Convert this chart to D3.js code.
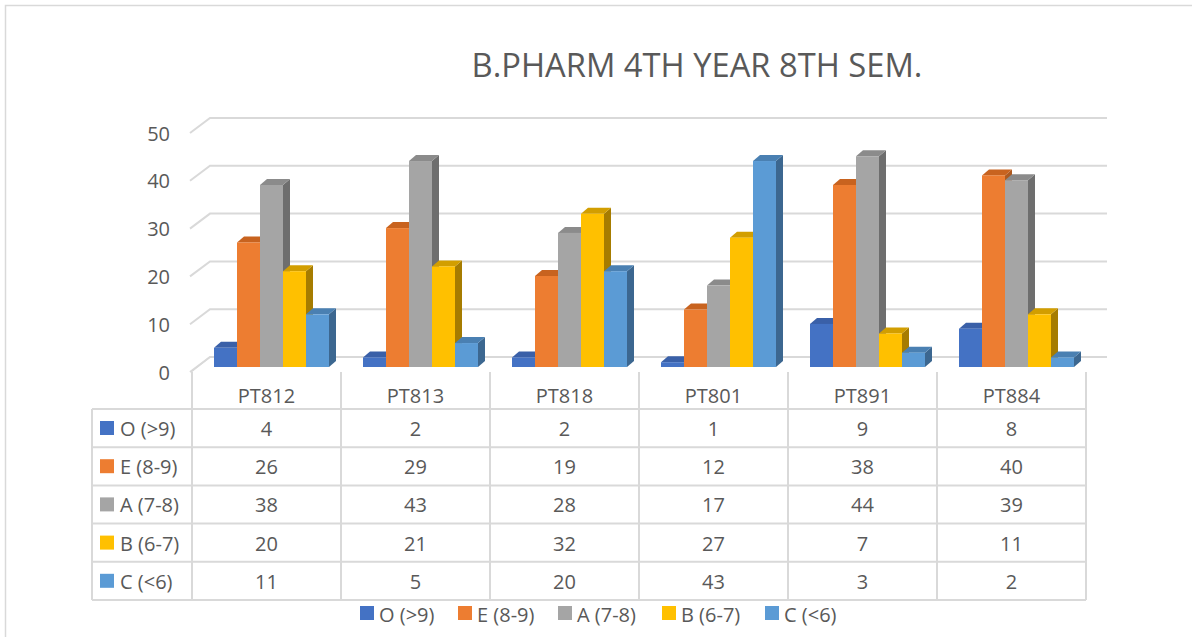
<!DOCTYPE html>
<html>
<head>
<meta charset="utf-8">
<script src="https://cdn.jsdelivr.net/npm/d3@7/dist/d3.min.js"></script>
<style>
  html, body { margin: 0; padding: 0; background: #fff; }
  svg { display: block; font-family: "Open Sans", "Noto Sans", sans-serif; }
  text { fill: #595959; }
</style>
</head>
<body>
<svg id="chart" width="1192" height="637"></svg>
<script>
// Grade distribution per subject code
const categories = ["PT812", "PT813", "PT818", "PT801", "PT891", "PT884"];
const seriesNames = ["O (>9)", "E (8-9)", "A (7-8)", "B (6-7)", "C (<6)"];
const valuesO = [4, 2, 2, 1, 9, 8];
const valuesE = [26, 29, 19, 12, 38, 40];
const valuesA = [38, 43, 28, 17, 44, 39];
const valuesB = [20, 21, 32, 27, 7, 11];
const valuesC = [11, 5, 20, 43, 3, 2];
const yTicks = [0, 10, 20, 30, 40, 50];
const titleText = "B.PHARM 4TH YEAR 8TH SEM.";

const seriesValues = [valuesO, valuesE, valuesA, valuesB, valuesC];
const frontColors = ["#4472C4", "#ED7D31", "#A5A5A5", "#FFC000", "#5B9BD5"];
const topColors   = ["#3A60A8", "#C8631F", "#8B8B8B", "#D29E00", "#4A80B2"];
const sideColors  = ["#2F528F", "#AE5A20", "#6E6E6E", "#A67C00", "#3C6790"];

const svg = d3.select("#chart");
const grid = "#d9d9d9";

// outer frame (top and left edges)
svg.append("path")
  .attr("d", "M5.5,637 L5.5,5.5 L1192,5.5")
  .attr("fill", "none").attr("stroke", grid).attr("stroke-width", 1.5);

// title, sized to its box
const title = svg.append("text")
  .attr("x", 697).attr("y", 77)
  .attr("text-anchor", "middle")
  .style("font-size", "30px")
  .text(titleText);
const tw = title.node().getComputedTextLength();
title.style("font-size", (30 * 451 / tw).toFixed(2) + "px");

// scales: back wall, front face of columns
const yBack = d3.scaleLinear().domain([0, 50]).range([357, 118]);
const yFront = d3.scaleLinear().domain([0, 50]).range([367, 127.5]);
const x = d3.scaleBand().domain(categories).range([192, 1086]).paddingInner(0).paddingOuter(0);
const xs = d3.scaleBand().domain(seriesNames).range([22, 137]);
const depthX = 7, depthY = -6;

// back-wall gridlines with the left-wall diagonal
const gl = svg.append("g").attr("fill", "none").attr("stroke", grid).attr("stroke-width", 2);
yTicks.forEach(t => {
  const yb = yBack(t);
  gl.append("path").attr("d", `M190,${yb + 15} L210,${yb} L1107,${yb}`);
});

// axis labels
const axis = svg.append("g");
yTicks.forEach(t => {
  axis.append("text")
    .attr("x", 170).attr("y", yBack(t) + 15 + 7.5)
    .attr("text-anchor", "end")
    .style("font-size", "20px")
    .text(t);
});

// 3D columns, drawn left to right so neighbours overlap correctly
const bars = svg.append("g");
categories.forEach((cat, ci) => {
  seriesNames.forEach((s, si) => {
    const v = seriesValues[si][ci];
    const x0 = x(cat) + xs(s);
    const w = xs.bandwidth();
    const yt = yFront(v), yb = yFront(0);
    const g = bars.append("g");
    // side
    g.append("path")
      .attr("d", `M${x0 + w},${yt} L${x0 + w + depthX},${yt + depthY} L${x0 + w + depthX},${yb + depthY} L${x0 + w},${yb} Z`)
      .attr("fill", sideColors[si]);
    // top
    g.append("path")
      .attr("d", `M${x0},${yt} L${x0 + depthX},${yt + depthY} L${x0 + w + depthX},${yt + depthY} L${x0 + w},${yt} Z`)
      .attr("fill", topColors[si]);
    // front
    g.append("rect")
      .attr("x", x0).attr("y", yt)
      .attr("width", w).attr("height", yb - yt)
      .attr("fill", frontColors[si]);
  });
});

// data table
const table = svg.append("g");
const rowTop = 409, rowH = 38.2;
const tableLeft = 92, tableRight = 1086;
const lines = table.append("g").attr("stroke", grid).attr("stroke-width", 2).attr("fill", "none");
// floor front edge into the first column line
lines.append("path").attr("d", `M210,357 L191,372`).attr("stroke-width", 1.5);
// vertical column lines
const colEdges = categories.map(c => x(c)).concat([x(categories[categories.length - 1]) + x.bandwidth()]);
colEdges.forEach(cx => {
  lines.append("line").attr("x1", cx).attr("x2", cx).attr("y1", 372).attr("y2", rowTop + rowH * 5);
});
lines.append("line").attr("x1", tableLeft).attr("x2", tableLeft).attr("y1", rowTop).attr("y2", rowTop + rowH * 5);
// horizontal row lines
for (let r = 0; r <= 5; r++) {
  lines.append("line").attr("x1", tableLeft).attr("x2", tableRight)
    .attr("y1", rowTop + rowH * r).attr("y2", rowTop + rowH * r);
}
// header
categories.forEach(c => {
  table.append("text")
    .attr("x", x(c) + x.bandwidth() / 2).attr("y", 403)
    .attr("text-anchor", "middle").style("font-size", "20px").text(c);
});
// rows
seriesNames.forEach((s, si) => {
  const ry = rowTop + rowH * si;
  table.append("rect").attr("x", 100).attr("y", ry + 12).attr("width", 14).attr("height", 14)
    .attr("fill", frontColors[si]);
  table.append("text").attr("x", 120).attr("y", ry + 27).style("font-size", "20px").text(s);
  categories.forEach((c, ci) => {
    table.append("text")
      .attr("x", x(c) + x.bandwidth() / 2).attr("y", ry + 27)
      .attr("text-anchor", "middle").style("font-size", "20px")
      .text(seriesValues[si][ci]);
  });
});

// legend
const legendX = [360, 458, 558, 662, 765];
const legend = svg.append("g");
seriesNames.forEach((s, si) => {
  legend.append("rect").attr("x", legendX[si]).attr("y", 606).attr("width", 14).attr("height", 14)
    .attr("fill", frontColors[si]);
  legend.append("text").attr("x", legendX[si] + 19).attr("y", 622)
    .style("font-size", "20px").text(s);
});
</script>
</body>
</html>
